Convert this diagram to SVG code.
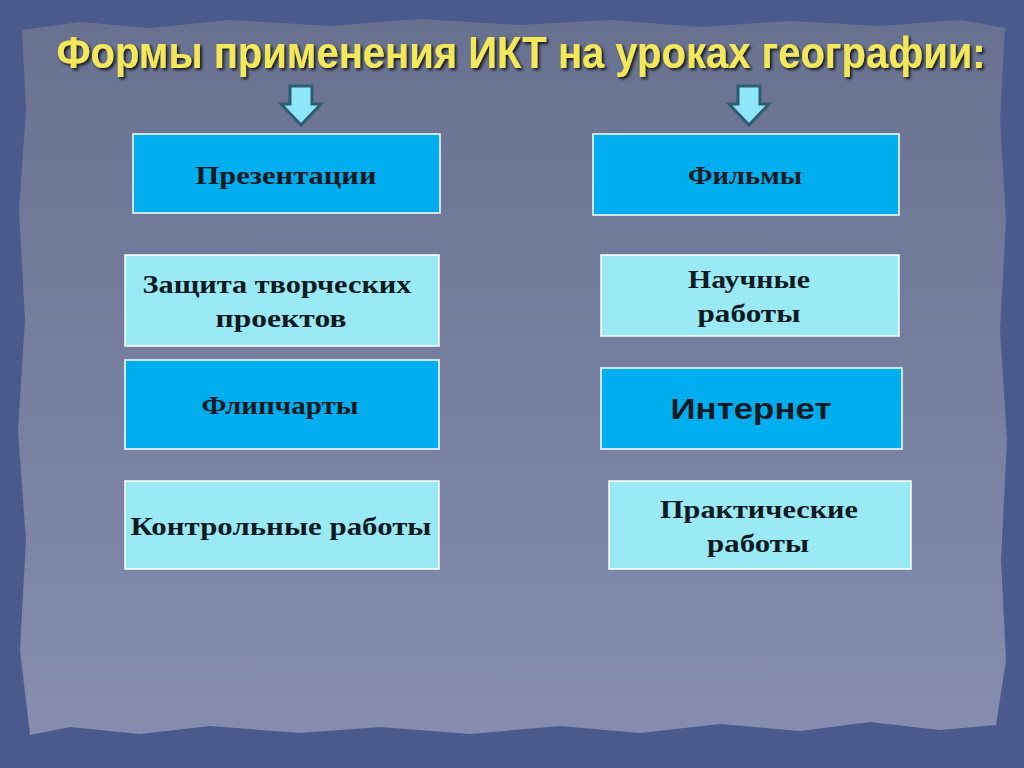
<svg xmlns="http://www.w3.org/2000/svg" width="1024" height="768" viewBox="0 0 1024 768">
<defs>
<linearGradient id="paper" x1="0" y1="0" x2="0" y2="1">
<stop offset="0" stop-color="#68718f"/>
<stop offset="0.5" stop-color="#767f9f"/>
<stop offset="1" stop-color="#868daf"/>
</linearGradient>
<filter id="sh" filterUnits="userSpaceOnUse" x="0" y="0" width="1024" height="120">
<feDropShadow dx="2" dy="2" stdDeviation="1.5" flood-color="#000" flood-opacity="0.8"/>
</filter>
<style>
.dark{fill:#00aeef;stroke:#ffffff;stroke-width:1.5}
.light{fill:#9aeaf5;stroke:#ffffff;stroke-width:1.5}
.t{font-family:"Liberation Serif",serif;font-weight:bold;font-size:25px;fill:#0a1a22;text-anchor:middle}
.arrow{fill:#8fe6f8;stroke:#2e5c72;stroke-width:3;stroke-linejoin:miter}
</style>
</defs>
<rect width="1024" height="768" fill="#4b5a8c"/>
<path d="M22,30 L80,22 L150,28 L230,20 L330,26 L420,19 L520,25 L610,20 L700,27 L790,21 L880,26 L960,20 L1005,28 L1000,120 L1006,220 L1000,330 L1007,440 L1001,560 L1006,660 L996,725 L940,730 L870,722 L800,731 L720,724 L640,733 L560,726 L470,734 L380,727 L300,733 L210,726 L140,734 L70,727 L30,735 L20,650 L26,540 L18,430 L25,320 L19,210 L26,110 Z" fill="url(#paper)"/>
<g id="title" filter="url(#sh)">
<text transform="translate(521,68) scale(1,1.1)" x="0" y="0" font-family="Liberation Sans,sans-serif" font-weight="bold" font-size="40" fill="#f3e85a" text-anchor="middle">Формы применения ИКТ на уроках  географии:</text>
</g>
<g id="connectors">
<path class="arrow" d="M290,86 H312 V104 H321 L301,125 L281,104 H290 Z"/>
<path class="arrow" d="M738,86 H760 V104 H769 L749,125 L729,104 H738 Z"/>
</g>
<g id="n1"><rect class="dark" x="133" y="134" width="307" height="79"/><text class="t" x="286" y="184" textLength="181" lengthAdjust="spacingAndGlyphs">Презентации</text></g>
<g id="n2"><rect class="dark" x="593" y="134" width="306" height="81"/><text class="t" x="745" y="184" textLength="114" lengthAdjust="spacingAndGlyphs">Фильмы</text></g>
<g id="n3"><rect class="light" x="125" y="255" width="314" height="91"/><text class="t" x="277" y="293" textLength="269" lengthAdjust="spacingAndGlyphs">Защита творческих</text><text class="t" x="281" y="327" textLength="131" lengthAdjust="spacingAndGlyphs">проектов</text></g>
<g id="n4"><rect class="light" x="601" y="255" width="298" height="81"/><text class="t" x="749" y="288" textLength="122" lengthAdjust="spacingAndGlyphs">Научные</text><text class="t" x="749" y="322" textLength="103" lengthAdjust="spacingAndGlyphs">работы</text></g>
<g id="n5"><rect class="dark" x="125" y="360" width="314" height="89"/><text class="t" x="280" y="414" textLength="157" lengthAdjust="spacingAndGlyphs">Флипчарты</text></g>
<g id="n6"><rect class="dark" x="601" y="368" width="301" height="81"/><text x="751" y="419" font-family="Liberation Sans,sans-serif" font-weight="bold" font-size="29" fill="#0a1a22" text-anchor="middle" textLength="161" lengthAdjust="spacingAndGlyphs">Интернет</text></g>
<g id="n7"><rect class="light" x="125" y="481" width="314" height="88"/><text class="t" x="281" y="535" textLength="301" lengthAdjust="spacingAndGlyphs">Контрольные работы</text></g>
<g id="n8"><rect class="light" x="609" y="481" width="302" height="88"/><text class="t" x="759" y="518" textLength="198" lengthAdjust="spacingAndGlyphs">Практические</text><text class="t" x="758" y="552" textLength="102" lengthAdjust="spacingAndGlyphs">работы</text></g>
</svg>
